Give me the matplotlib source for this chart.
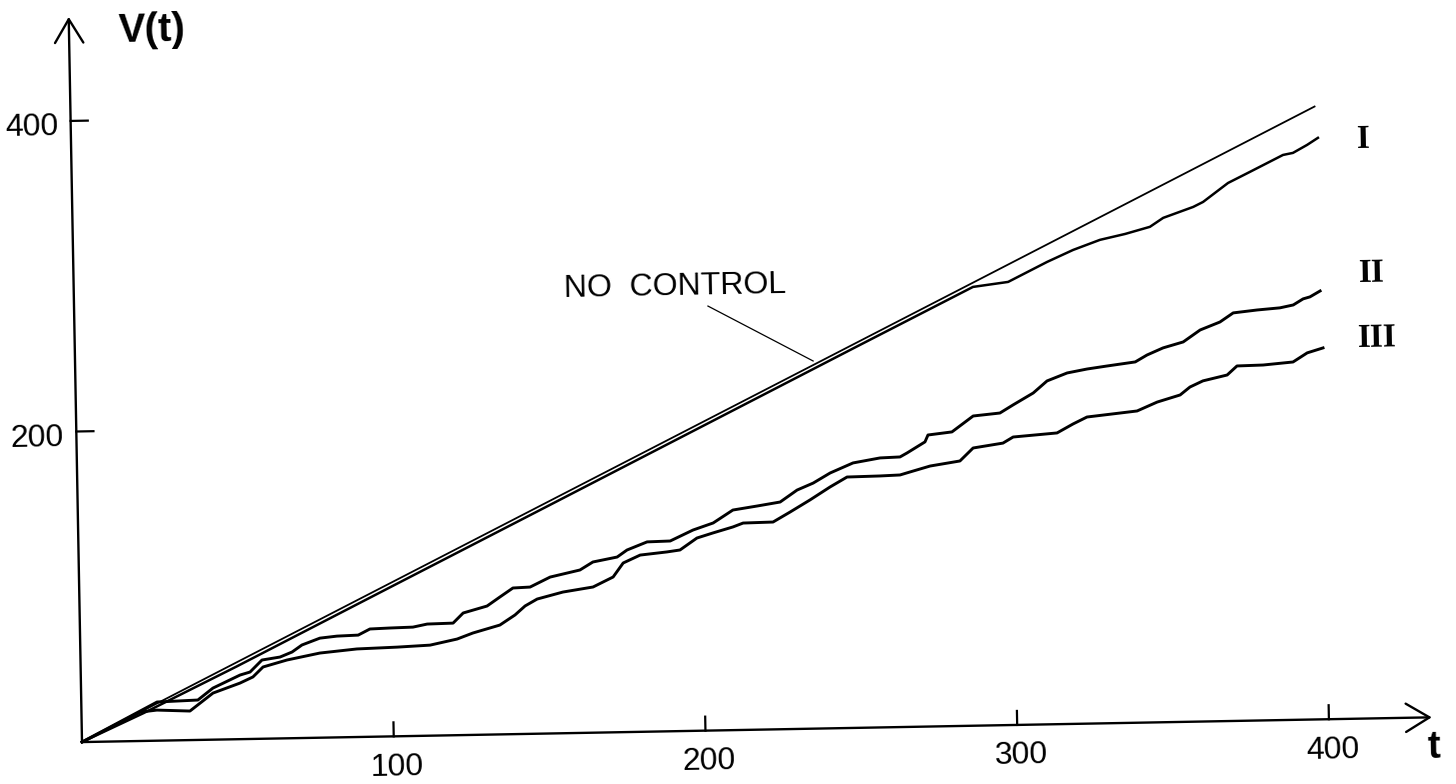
import matplotlib
matplotlib.use('Agg')
from matplotlib import pyplot as plt
from matplotlib import font_manager
from matplotlib.transforms import Affine2D

# values (t, V(t))
t_nocontrol = [0, 399]
v_nocontrol = [0, 394.6]

t_1 = [0, 20, 50, 100, 150, 200, 250, 288.4, 299.7, 312.3, 320.7, 329.4, 337.5, 345.5,
       349.8, 359.5, 362.7, 370.8, 377.9, 388.6, 391.8, 396.4, 399.9]
v_1 = [0, 18.0, 46.8, 96.3, 145.7, 195.2, 244.7, 282.5, 285.3, 297.7, 305.1, 311.3, 314.8, 319.1,
       324.7, 331.4, 334.5, 346.4, 353.3, 363.8, 365.0, 370.0, 374.4]

t_2 = [0, 24.3, 37.4, 42.3, 51.1, 54.3, 58.2, 64.0, 67.9, 71.1, 76.9, 82.4, 89.2, 93.0,
       99.5, 106.8, 111.4, 119.7, 123.0, 130.7, 134.9, 139.1, 144.6, 151.1, 160.7, 164.9,
       172.7, 175.9, 182.4, 189.8, 197.2, 203.7, 210.1, 217.9, 225.3, 230.8, 236.0, 241.5,
       248.9, 257.6, 264.0, 266.3, 272.1, 273.1, 280.8, 287.7, 296.3, 300.6, 307.1, 311.6,
       318.1, 324.5, 330.9, 340.0, 343.8, 349.0, 355.5, 361.0, 367.4, 371.7, 379.4, 386.7,
       391.0, 394.2, 396.4, 399.7]
v_2 = [0, 24.9, 25.7, 33.2, 41.3, 43.1, 50.7, 52.4, 55.5, 59.9, 64.1, 65.2, 65.6, 69.4,
       69.8, 70.1, 71.9, 72.2, 78.6, 82.8, 88.5, 94.1, 94.5, 100.7, 104.9, 109.9,
       112.8, 117.2, 122.2, 122.5, 129.3, 133.6, 141.7, 144.0, 146.3, 153.8, 158.1, 164.4,
       170.6, 173.5, 173.9, 176.4, 183.3, 187.7, 189.4, 199.4, 201.0, 206.1, 213.5, 221.1,
       226.0, 228.3, 230.0, 232.3, 236.6, 241.0, 244.6, 252.1, 257.0, 262.7, 264.3, 265.4,
       267.1, 270.9, 272.1, 275.8]

t_3 = [0, 18.8, 24.2, 34.8, 42.3, 51.0, 55.2, 58.5, 66.2, 76.8, 88.7, 101.6, 112.2, 120.9,
       126.0, 134.7, 139.6, 142.9, 146.8, 155.1, 164.8, 171.3, 174.6, 180.1, 188.7, 192.9,
       198.4, 203.6, 210.0, 213.3, 222.9, 228.4, 234.9, 241.4, 246.9, 257.5, 263.9, 267.1,
       273.6, 283.2, 287.5, 297.1, 300.4, 314.5, 319.7, 324.2, 340.3, 346.8, 354.2, 357.4,
       361.6, 369.4, 372.6, 381.0, 390.6, 395.2, 400.3]
v_3 = [0, 18.6, 19.7, 18.7, 30.0, 36.1, 39.9, 46.2, 50.4, 54.5, 56.7, 57.4, 58.3, 61.9,
       65.6, 70.4, 76.7, 82.4, 86.7, 90.9, 93.8, 100.0, 108.9, 113.8, 115.5, 116.6,
       124.1, 127.2, 130.8, 133.2, 133.5, 139.7, 147.3, 155.4, 161.6, 161.9, 162.3, 164.1,
       167.7, 170.6, 178.8, 181.6, 185.4, 187.5, 193.1, 197.4, 200.7, 206.2, 210.5, 215.5,
       219.3, 222.8, 228.5, 228.8, 230.4, 236.1, 239.1]

xticks = [100, 200, 300, 400]
yticks = [200, 400]

names = {f.name for f in font_manager.fontManager.ttflist}
narrow = 'Liberation Sans Narrow' if 'Liberation Sans Narrow' in names else 'Liberation Sans'

fig = plt.figure(figsize=(14.56, 7.84), dpi=100)
ax = fig.add_axes([0, 0, 1, 1])
ax.set_xlim(-26.3, 440.7)
ax.set_ylim(-27.0, 477.8)
ax.axis('off')
ax.set_autoscale_on(False)

# the scan is turned about one degree, so everything is drawn in a rotated frame
ang = 1.05
ox, oy = ax.transData.transform((0, 0))
rot = ax.transData + Affine2D().rotate_deg_around(ox, oy, ang)

# axes with open arrow heads
arrow = dict(arrowstyle='->,head_length=0.5,head_width=0.3', lw=1.7, color='black',
             mutation_scale=34, shrinkA=0, shrinkB=0)
ax.annotate('', xy=(433, 0), xytext=(0, 0), xycoords=rot, textcoords=rot, arrowprops=arrow)
ax.annotate('', xy=(0, 467), xytext=(0, 0), xycoords=rot, textcoords=rot, arrowprops=arrow)

for x in xticks:
    ax.plot([x, x], [0, 9], color='black', lw=1.6, transform=rot)
    ax.text(x + 1, -20, str(x), transform=rot, ha='center', va='center', rotation=ang,
            rotation_mode='anchor', fontsize=23, family=narrow)
for y in yticks:
    ax.plot([0, 5.5], [y, y], color='black', lw=1.6, transform=rot)
    ax.text(-4, y - 4, str(y), transform=rot, ha='right', va='center', rotation=ang,
            rotation_mode='anchor', fontsize=23, family=narrow)

ax.text(26.6, 457.6, 'V(t)', transform=rot, ha='center', va='center', rotation=ang,
        rotation_mode='anchor', fontsize=29, fontweight='bold', family='Liberation Sans')
ax.text(433.6, -19.8, 't', transform=rot, ha='center', va='center', rotation=ang,
        rotation_mode='anchor', fontsize=28, fontweight='bold', family='Liberation Sans')

# curves
ax.plot(t_nocontrol, v_nocontrol, color='black', lw=1.3, transform=rot)
ax.plot(t_1, v_1, color='black', lw=1.8, transform=rot)
ax.plot(t_2, v_2, color='black', lw=2.1, transform=rot)
ax.plot(t_3, v_3, color='black', lw=2.1, transform=rot)

# labels
ax.text(192.8, 286, 'NO  CONTROL', transform=rot, ha='center', va='center', rotation=ang,
        rotation_mode='anchor', fontsize=23, family=narrow)
ax.plot([203.3, 236.7], [273.3, 236.7], color='black', lw=0.9, transform=rot)
for lab, x, y in [('I', 414.4, 372.6), ('II', 416.5, 286.8), ('III', 417.7, 244.9)]:
    ax.text(x, y, lab, transform=rot, ha='center', va='center', rotation=ang,
            rotation_mode='anchor', fontsize=24, fontweight='bold', family='Liberation Serif')

ax.set_xlim(-26.3, 440.7)
ax.set_ylim(-27.0, 477.8)
fig.savefig('out.png', dpi=100)
